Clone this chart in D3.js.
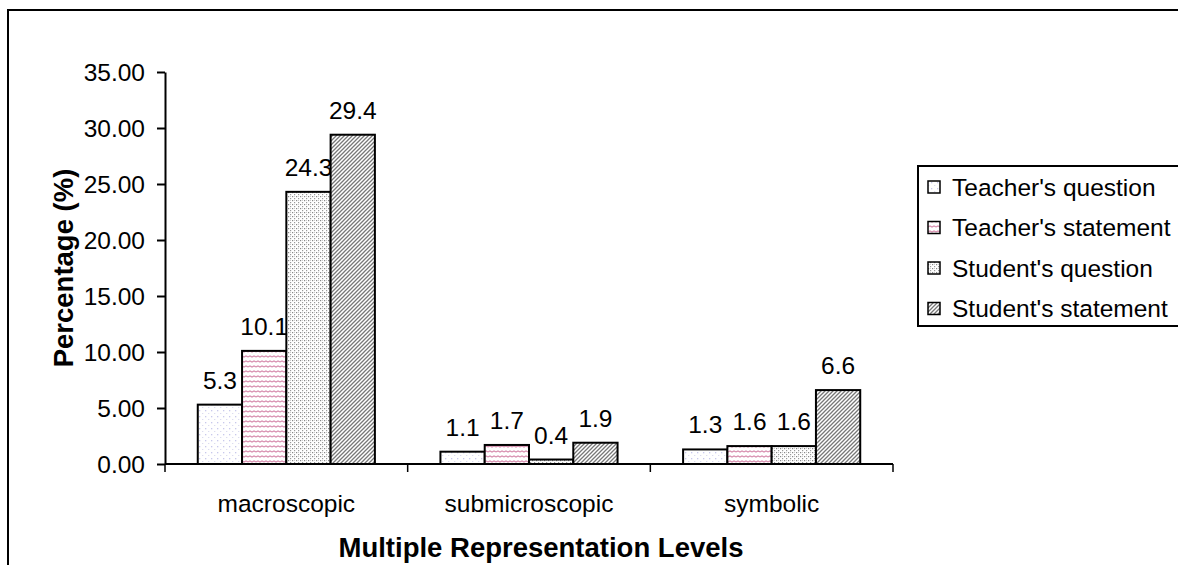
<!DOCTYPE html>
<html><head><meta charset="utf-8">
<script src="https://cdn.jsdelivr.net/npm/d3@7"></script>
<style>body{margin:0;background:#fff}svg{display:block;font-family:"Liberation Sans",Arial,sans-serif}</style>
</head><body><svg id="c" width="1178" height="565"></svg>
<script>
const categories = ["macroscopic", "submicroscopic", "symbolic"];
const seriesNames = ["Teacher's question", "Teacher's statement", "Student's question", "Student's statement"];
const teacherQuestion = [5.3, 1.1, 1.3];
const teacherStatement = [10.1, 1.7, 1.6];
const studentQuestion = [24.3, 0.4, 1.6];
const studentStatement = [29.4, 1.9, 6.6];
const yTicks = [0, 5, 10, 15, 20, 25, 30, 35];
const seriesValues = [teacherQuestion, teacherStatement, studentQuestion, studentStatement];
const patternIds = ["p0", "p1", "p2", "p3"];
const FS = 24.5;
const FT = 27.5;

const svg = d3.select("#c");
const defs = svg.append("defs");
let p = defs.append("pattern").attr("id", "p0").attr("width", 6).attr("height", 6).attr("patternUnits", "userSpaceOnUse");
p.append("rect").attr("width", 6).attr("height", 6).attr("fill", "#fff");
p.append("rect").attr("x", 1).attr("y", 2).attr("width", 1.3).attr("height", 1.3).attr("fill", "#c8c8ec");
p.append("rect").attr("x", 4).attr("y", 5).attr("width", 1.3).attr("height", 1.3).attr("fill", "#dcdcf0");
p = defs.append("pattern").attr("id", "p1").attr("width", 8).attr("height", 5).attr("patternUnits", "userSpaceOnUse");
p.append("rect").attr("width", 8).attr("height", 5).attr("fill", "#fff");
p.append("path").attr("d", "M0,2 L2,1 L4,2 L6,1 L8,2").attr("stroke", "#d890b0").attr("stroke-width", 1.3).attr("fill", "none");
p = defs.append("pattern").attr("id", "p2").attr("width", 4).attr("height", 4).attr("patternUnits", "userSpaceOnUse");
p.append("rect").attr("width", 4).attr("height", 4).attr("fill", "#fff");
p.append("rect").attr("x", 0).attr("y", 0).attr("width", 1.2).attr("height", 1.2).attr("fill", "#888");
p.append("rect").attr("x", 2).attr("y", 2).attr("width", 1.2).attr("height", 1.2).attr("fill", "#999");
p.append("rect").attr("x", 2).attr("y", 0).attr("width", 1).attr("height", 1).attr("fill", "#ccc");
p = defs.append("pattern").attr("id", "p3").attr("width", 4).attr("height", 4).attr("patternUnits", "userSpaceOnUse");
p.append("rect").attr("width", 4).attr("height", 4).attr("fill", "#fff");
p.append("path").attr("d", "M0,4 L4,0 M-1,1 L1,-1 M3,5 L5,3").attr("stroke", "#777").attr("stroke-width", 1.3);

svg.append("path").attr("d", "M8,565 L8,10 L1180,10").attr("fill", "none").attr("stroke", "#000").attr("stroke-width", 2);

const plotL = 165, plotR = 893, plotT = 72, plotB = 464;
const x0 = d3.scaleBand().domain(categories).range([plotL, plotR]).paddingInner(0).paddingOuter(0);
const x1 = d3.scaleBand().domain(d3.range(4)).range([0, x0.bandwidth()]).paddingOuter(0.74).paddingInner(0);
const y = d3.scaleLinear().domain([0, 35]).range([plotB, plotT]);

const g = svg.append("g");
categories.forEach((c, ci) => {
  seriesValues.forEach((vals, si) => {
    const v = vals[ci];
    const bx = x0(c) + x1(si);
    g.append("rect").attr("x", bx).attr("y", y(v)).attr("width", x1.bandwidth()).attr("height", y(0) - y(v))
      .attr("fill", "url(#" + patternIds[si] + ")").attr("stroke", "#000").attr("stroke-width", 2);
    g.append("text").attr("x", bx + x1.bandwidth() / 2).attr("y", y(v) - 16).attr("text-anchor", "middle")
      .attr("font-size", FS).attr("fill", "#000").text(v.toFixed(1));
  });
});

const yAxis = d3.axisLeft(y).tickValues(yTicks).tickFormat(d => d.toFixed(2)).tickSize(8).tickPadding(12).tickSizeOuter(0);
const ya = svg.append("g").attr("transform", `translate(${plotL},0)`).call(yAxis);
ya.selectAll("text").attr("font-size", FS).attr("fill", "#000").attr("font-family", "Liberation Sans, Arial, sans-serif").attr("dy", "0.35em");
ya.selectAll("line").attr("stroke", "#000").attr("stroke-width", 2);
ya.select(".domain").attr("stroke", "#000").attr("stroke-width", 2);

const xa = svg.append("g").attr("transform", `translate(0,${plotB})`);
xa.append("line").attr("x1", plotL).attr("x2", plotR).attr("stroke", "#000").attr("stroke-width", 2);
const bounds = categories.map(c => x0(c)).concat([plotR]);
xa.selectAll(".tk").data(bounds).enter().append("line").attr("x1", d => d).attr("x2", d => d).attr("y1", 0).attr("y2", 8).attr("stroke", "#000").attr("stroke-width", 1.5);
xa.selectAll(".cl").data(categories).enter().append("text").attr("x", d => x0(d) + x0.bandwidth() / 2).attr("y", 48)
  .attr("text-anchor", "middle").attr("font-size", FS).text(d => d);

svg.append("text").attr("x", (plotL + plotR) / 2 + 12).attr("y", 557).attr("text-anchor", "middle").attr("font-size", FT).attr("font-weight", "bold").text("Multiple Representation Levels");
svg.append("text").attr("transform", `translate(73,${(plotT + plotB) / 2}) rotate(-90)`).attr("text-anchor", "middle").attr("font-size", FT).attr("font-weight", "bold").text("Percentage (%)");

const lg = svg.append("g");
lg.append("rect").attr("x", 918).attr("y", 166).attr("width", 270).attr("height", 160).attr("fill", "#fff").attr("stroke", "#000").attr("stroke-width", 2);
seriesNames.forEach((n, i) => {
  const cy = 187 + i * 40.5;
  lg.append("rect").attr("x", 928).attr("y", cy - 6).attr("width", 12).attr("height", 12).attr("fill", "url(#" + patternIds[i] + ")").attr("stroke", "#000").attr("stroke-width", 1.5);
  lg.append("text").attr("x", 952).attr("y", cy).attr("dy", "0.35em").attr("font-size", FS).text(n);
});
</script></body></html>
